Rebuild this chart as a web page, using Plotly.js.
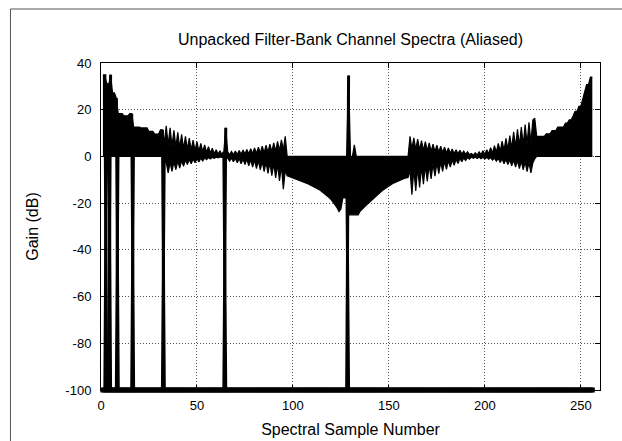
<!DOCTYPE html>
<html><head><meta charset="utf-8">
<script src="https://cdn.plot.ly/plotly-3.0.1.min.js"></script>
<style>html,body{margin:0;padding:0;background:#fff}#chart{width:622px;height:441px}</style>
</head><body><div id="chart"></div>
<script>
// ---- data (gain in dB per spectral sample) ----
const floorDb = -100;
const channelStarts = [1, 3, 5, 9, 17, 33, 65, 129];
const lastSample = 256;

// upper envelope, samples 1-32 ... 225-256
const upperA = [34.5,34.5,31,30.5,35,27.2,27.2,25,18.3,18.3,18.3,17.4,17.4,17.4,18.3,18.3,12.6,12.6,12.6,12.6,12.2,12.2,12.2,12.2,10.7,10.7,10.7,9.6,9.6,9.6,11.4,11.4];
const upperB = [6,13.1,5,12.2,4.5,11.2,4.1,10.3,3.7,9.5,3.4,8.6,3.1,7.8,2.8,7.0,2.5,6.3,2.2,5.6,2.0,4.9,1.7,4.2,1.5,3.5,1.2,2.9,1.0,2.4,0.8,2.0];
const upperC = [12.3,2.0,0.7,2.1,0.7,2.3,0.8,2.5,0.9,2.7,1.0,3.0,1.1,3.3,1.2,3.6,1.3,4.0,1.5,4.4,1.6,4.8,1.8,5.3,2.0,5.8,2.2,6.4,2.5,7.1,2.8,8.6];
const upperD = [0,0,0,0,0,0,0,0,0,0,0,0,0,0,0,0,0,0,0,0,0,0,0,0,0,0,0,0,0,0,0,0];
const upperE = [34.6,0,0,5,0,0,0,0,0,0,0,0,0,0,0,0,0,0,0,0,0,0,0,0,0,0,0,0,0,0,0,0];
const upperF = [8.6,3.2,8.0,3.0,7.4,2.8,6.8,2.6,6.3,2.4,5.8,2.2,5.3,2.0,4.8,1.8,4.4,1.7,4.0,1.5,3.6,1.4,3.2,1.2,2.9,1.1,2.6,1.0,2.3,0.9,2.0,0.8];
const upperG = [1.3,0.5,1.6,0.6,2.0,0.8,2.4,0.9,2.9,1.1,3.7,1.4,4.6,1.8,5.6,2.2,6.6,2.6,7.7,3.0,8.9,3.5,10.5,4.1,11.6,4.6,12.6,5.0,13.6,5.4,14.6,5.8];
const upperH = [15.6,16.4,8.6,8.6,8.6,8.6,8.6,9.7,9.7,9.7,11.1,11.1,11.1,12.6,12.6,12.6,12.6,14.3,14.3,15.7,15.7,17.4,19.3,19.3,21.4,21.4,24.3,27.8,30.7,30.7,34,34];

// lower envelope, samples 1-32 ... 225-256
const lowerA = [0,0,0,0,0,0,0,0,0,0,0,0,0,0,0,0,0,0,0,0,0,0,0,0,0,0,0,0,0,0,0,0];
const lowerB = [-3,-2.5,-7.1,-2.6,-6.4,-2.3,-5.7,-2.0,-5.0,-1.8,-4.2,-1.5,-3.5,-1.3,-3.1,-1.1,-2.7,-1.0,-2.4,-0.8,-1.9,-0.6,-1.4,-0.5,-1.1,-0.4,-0.8,-0.3,-0.6,-0.2,-0.4,-0.1];
const lowerC = [-1.0,-0.6,-2.0,-0.7,-2.3,-0.8,-2.7,-0.9,-3.1,-1.1,-3.5,-1.2,-4.0,-1.4,-4.6,-1.6,-5.2,-1.8,-5.8,-2.1,-6.5,-2.4,-7.3,-2.7,-8.2,-3.1,-9.2,-3.5,-10.5,-4.0,-14.0,-6.0];
const lowerD = [-8.3,-8.6,-8.8,-9.1,-9.4,-9.7,-10.0,-10.3,-10.7,-11.0,-11.4,-11.8,-12.2,-12.6,-13.0,-13.5,-14.0,-14.4,-15.0,-15.6,-16.2,-16.9,-17.7,-18.6,-19.5,-20.8,-22.0,-23.6,-22.5,-17.8,-17.8,-17.8];
const lowerE = [-25,-25,-25,-25,-25,-25,-23.5,-22.5,-21.8,-21,-20.3,-19.5,-18.8,-18,-17.2,-16.4,-15.6,-15,-14.4,-13.8,-13.2,-12.6,-12.1,-11.6,-11.2,-10.8,-10.4,-10,-9.7,-9.4,-9.2,-9.0];
const lowerF = [-6,-16.4,-5.5,-14.8,-5.0,-13.3,-4.5,-11.9,-4.0,-10.7,-3.6,-9.6,-3.2,-8.5,-2.8,-7.4,-2.4,-6.4,-2.1,-5.5,-1.8,-4.6,-1.5,-3.8,-1.2,-3.0,-0.9,-2.3,-0.7,-1.7,-0.5,-1.2];
const lowerG = [-0.2,-0.8,-0.3,-0.9,-0.3,-1.0,-0.4,-1.1,-0.4,-1.2,-0.5,-1.6,-0.7,-2.0,-0.8,-2.6,-1.0,-3.1,-1.2,-3.5,-1.4,-4.0,-1.6,-4.6,-1.8,-5.2,-2.0,-5.8,-2.3,-6.5,-2.5,-7.1];
const lowerH = [-2.8,-1,0,0,0,0,0,0,0,0,0,0,0,0,0,0,0,0,0,0,0,0,0,0,0,0,0,0,0,0,0,0];

// axis ticks and texts
const xTickVals = [0, 50, 100, 150, 200, 250];
const yTickVals = [-100, -80, -60, -40, -20, 0, 20, 40];
const yTickText = ['-100', '-80', '-60', '-40', '-20', '0', '20', '40'];
const titleText = 'Unpacked Filter-Bank Channel Spectra (Aliased)';
const xTitle = 'Spectral Sample Number';
const yTitle = 'Gain (dB)';

// ---- build traces ----
const upper = [].concat(upperA, upperB, upperC, upperD, upperE, upperF, upperG, upperH);
const lower = [].concat(lowerA, lowerB, lowerC, lowerD, lowerE, lowerF, lowerG, lowerH);
const samples = upper.map((_, i) => i + 1);

const traces = [
  {x: samples, y: lower, mode: 'lines', line: {color: '#000', width: 1.2}, hoverinfo: 'skip'},
  {x: samples, y: upper, mode: 'lines', fill: 'tonexty', fillcolor: '#000', line: {color: '#000', width: 1.2}, hoverinfo: 'skip'}
];

// each channel sits on the -100 dB floor outside its own band
const floorSamples = [];
channelStarts.forEach((s, k) => {
  const e = (k + 1 < channelStarts.length ? channelStarts[k + 1] - 1 : lastSample);
  const y = samples.map(n => (n < s || n > e) ? floorDb : ((n === s || n === e) ? upper[n - 1] : null));
  samples.forEach(n => { if ((n < s || n > e) && floorSamples.indexOf(n) < 0) floorSamples.push(n); });
  traces.push({x: samples, y: y, mode: 'lines', connectgaps: false, line: {color: '#000', width: 3}, hoverinfo: 'skip'});
});
// the floor line itself is drawn unclipped, as in the reference
floorSamples.sort((a, b) => a - b);
traces.push({x: floorSamples, y: floorSamples.map(() => floorDb), mode: 'markers', cliponaxis: false,
  marker: {symbol: 'square', size: 5, color: '#000', line: {width: 0}}, hoverinfo: 'skip'});

const font = {family: '"Liberation Sans", Arial, sans-serif', color: '#000'};
const axisCommon = {
  showline: true, mirror: 'ticks', linecolor: '#000', linewidth: 1,
  ticks: 'inside', ticklen: 5, tickcolor: '#000', tickwidth: 1,
  showgrid: true, gridcolor: '#555', gridwidth: 1, griddash: '1px,2px',
  zeroline: false, tickfont: Object.assign({size: 13}, font)
};

const layout = {
  width: 622, height: 441,
  margin: {l: 101, r: 22, t: 63, b: 51},
  paper_bgcolor: '#fff', plot_bgcolor: '#fff',
  showlegend: false,
  title: {text: titleText, font: Object.assign({size: 16}, font), x: 0.5, xref: 'paper', y: 1 - 39 / 441, yanchor: 'middle'},
  xaxis: Object.assign({}, axisCommon, {range: [0, 260], tickmode: 'array', tickvals: xTickVals, ticklabelstandoff: 3,
    title: {text: xTitle, font: Object.assign({size: 16}, font), standoff: 12}}),
  yaxis: Object.assign({}, axisCommon, {range: [-100, 40], tickmode: 'array', tickvals: yTickVals, ticktext: yTickText, ticklabelstandoff: 6,
    title: {text: yTitle, font: Object.assign({size: 16}, font), standoff: 22}}),
  shapes: [{type: 'rect', xref: 'paper', yref: 'paper', x0: -0.1814, y0: -0.6, x1: 1.6, y1: 1.1651,
    line: {color: '#555', width: 1}, fillcolor: 'rgba(0,0,0,0)', layer: 'below'}]
};

Plotly.newPlot('chart', traces, layout, {displayModeBar: false, staticPlot: true});
</script>
</body></html>
